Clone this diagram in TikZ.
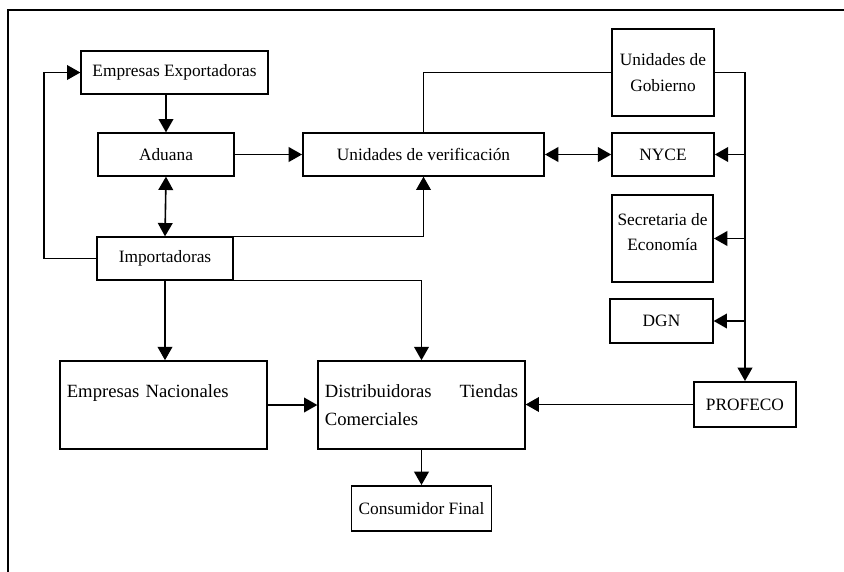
\documentclass[tikz,border=0pt]{standalone}
\usepackage{fontspec}
\setmainfont{Liberation Serif}
\usetikzlibrary{arrows.meta}

\tikzset{every picture/.style={line width=1.2pt},
  caja/.style={draw, line width=1.2pt, inner sep=0pt, align=center, font=\fontsize{13}{19}\selectfont},
  cajagrande/.style={caja, align=left, inner xsep=5pt, font=\fontsize{14}{21}\selectfont},
  flecha/.style={-{Triangle[length=10pt,width=11pt]}},
  dflecha/.style={{Triangle[length=10pt,width=11pt]}-{Triangle[length=10pt,width=11pt]}}}

\begin{document}
\begin{tikzpicture}[x=0.75pt,y=0.75pt,yscale=-1,line width=1.2pt]
  \useasboundingbox (0,0) rectangle (844,572);
  %marco
  \draw (8,572) -- (8,10) -- (844,10);

  \node [caja, minimum width=140pt, minimum height=32pt] (exp) at (174.5,72.5) {Empresas Exportadoras};
  \node [caja, minimum width=102pt, minimum height=32pt] (adu) at (166,154.5) {Aduana};
  \node [caja, minimum width=181pt, minimum height=32pt] (ver) at (423.5,154.5) {Unidades de verificación};
  \node [caja, minimum width=102pt, minimum height=32pt] (imp) at (165,258.5) {Importadoras};

  \node [caja, minimum width=76.5pt, minimum height=65pt] (gob) at (663,72.5) {Unidades de\\Gobierno};
  \node [caja, minimum width=76.5pt, minimum height=32pt] (nyce) at (663,154.5) {NYCE};
  \node [caja, minimum width=76pt, minimum height=65pt] (sec) at (662.5,238.5) {Secretaria de\\Economía\\[-9pt]\mbox{}};
  \node [caja, minimum width=77pt, minimum height=33pt] (dgn) at (661.5,321) {DGN};
  \node [caja, minimum width=76.5pt, minimum height=34pt] (prof) at (745,404.5) {PROFECO};

  \node [cajagrande, text width=145pt, minimum height=66pt] (nac) at (163.5,405) {\mbox{Empresas Nacionales}\\\phantom{X}};
  \node [cajagrande, text width=145pt, minimum height=66pt] (dis) at (421.5,405) {Distribuidoras\hfill Tiendas\\Comerciales};
  \node [caja, minimum width=105pt, minimum height=34pt] (con) at (421.5,508.5) {Consumidor Final};

  \draw [flecha] (adu.north |- exp.south) -- (adu.north);
  \draw [dflecha] (adu.south) -- (imp.north);
  \draw [flecha] (adu.east) -- (ver.west);
  \draw [dflecha] (ver.east) -- (nyce.west);
  \draw (gob.west) -| (ver.north);
  \draw [flecha] (gob.east) -| (prof.north);
  \draw [flecha] (prof.north |- nyce.east) -- (nyce.east);
  \draw [flecha] (prof.north |- sec.east) -- (sec.east);
  \draw [flecha] (prof.north |- dgn.east) -- (dgn.east);

  \draw [flecha] (imp.west) -- ++(-52,0) |- (exp.west);
  \draw [flecha] (imp.north east) -| (ver.south);
  \draw [flecha] (imp.south east) -| (dis.north);
  \draw [flecha] (imp.south) -- (imp.south |- nac.north);
  \draw [flecha] (nac.east) -- (dis.west);
  \draw [flecha] (prof.west) -- (prof.west -| dis.east);
  \draw [flecha] (dis.south) -- (con.north);

\end{tikzpicture}
\end{document}
